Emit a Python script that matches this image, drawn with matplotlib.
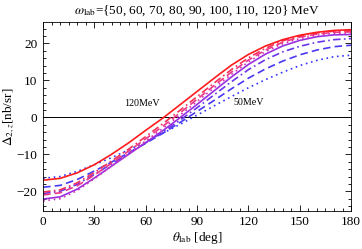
import numpy as np
import matplotlib
matplotlib.use("Agg")
import matplotlib.pyplot as plt

plt.rcParams['font.family'] = ['Liberation Serif', 'DejaVu Serif']
plt.rcParams['mathtext.fontset'] = 'stix'

theta = [0, 10, 20, 30, 40, 50, 60, 70, 80, 90, 100, 110, 120, 130, 140, 150, 160, 170, 180]

d50 = [-16.5, -16.0, -14.6, -12.8, -10.9, -8.8, -6.6, -4.3, -1.9, 0.6, 3.1, 5.6, 8.0, 10.2, 12.2, 14.0, 15.4, 16.4, 16.8]
d60 = [-18.9, -18.4, -16.8, -14.5, -12.1, -9.6, -7.0, -4.3, -1.4, 1.6, 4.6, 7.7, 10.6, 13.1, 15.2, 16.9, 18.2, 19.1, 19.5]
d70 = [-20.6, -20.0, -18.1, -15.4, -12.6, -9.8, -6.9, -3.9, -0.8, 2.6, 6.1, 9.6, 12.9, 15.6, 17.7, 19.2, 20.3, 21.0, 21.3]
d80 = [-22.1, -21.5, -19.4, -16.4, -13.2, -10.0, -6.8, -3.6, -0.1, 3.5, 7.2, 10.9, 14.3, 17.1, 19.3, 20.8, 21.8, 22.3, 22.4]
d90 = [-22.6, -22.0, -19.8, -16.6, -13.2, -9.8, -6.4, -3.0, 0.6, 4.3, 8.0, 11.6, 15.0, 17.8, 19.9, 21.3, 22.2, 22.7, 22.8]
d100 = [-21.0, -20.4, -18.5, -15.6, -12.4, -9.1, -5.8, -2.4, 1.2, 4.9, 8.6, 12.2, 15.5, 18.2, 20.3, 21.7, 22.5, 23.0, 23.1]
d110 = [-20.2, -19.6, -17.7, -14.9, -11.8, -8.6, -5.2, -1.7, 1.9, 5.6, 9.3, 12.9, 16.1, 18.7, 20.7, 22.0, 22.8, 23.3, 23.4]
d120 = [-17.0, -16.5, -15.0, -12.8, -10.0, -6.9, -3.5, -0.2, 3.4, 7.0, 10.6, 14.1, 17.0, 19.3, 21.0, 22.2, 23.0, 23.5, 23.7]

series = [d50, d60, d70, d80, d90, d100, d110, d120]
colors = ['#3636ff', '#4a38f2', '#6a34ea', '#9a30e0', '#d234b8', '#ec3888', '#f5305a', '#ff1c1c']
dotted = (0, (1, 2.2))
dashed = (0, (4.5, 2.5))
dashdot = (0, (4.5, 2, 1, 2))
styles = [dotted, dashed, dashdot, '-', dotted, dashed, dashdot, '-']

fig = plt.figure(figsize=(3.62, 2.49), dpi=100)
ax = fig.add_axes([0.119, 0.153, 0.851, 0.759])

ax.axhline(0, color='black', lw=0.7, zorder=1)
for y, c, ls in zip(series, colors, styles):
    ax.plot(theta, y, color=c, ls=ls, lw=1.2, zorder=2)

ax.text(58, 3.8, '120MeV', fontsize=7.2, ha='center', va='center')
ax.text(120, 3.9, '50MeV', fontsize=7.2, ha='center', va='center')

ax.set_xlim(0, 180)
ax.set_ylim(-25.3, 25.8)
ax.set_xticks(range(0, 181, 30))
ax.set_xticks(range(0, 181, 5), minor=True)
ax.set_yticks([-20, -10, 0, 10, 20])
ax.set_yticks(np.arange(-24, 25, 2), minor=True)
ax.tick_params(which='both', direction='in', top=True, right=True, labelsize=9.5, width=0.6)
ax.tick_params(which='major', length=4, pad=4)
ax.tick_params(which='minor', length=2)
for s in ax.spines.values():
    s.set_linewidth(0.6)

ax.set_xlabel(r'$\theta_{\rm lab}$ [deg]', fontsize=9.5, labelpad=1)
ax.set_ylabel(r'$\Delta_{2,z}$[nb/sr]', fontsize=9.5, labelpad=0)
ax.set_title(r'$\omega_{\rm lab}$={50, 60, 70, 80, 90, 100, 110, 120} MeV',
             fontsize=9.5, pad=6)

fig.savefig('out.png', dpi=100)
